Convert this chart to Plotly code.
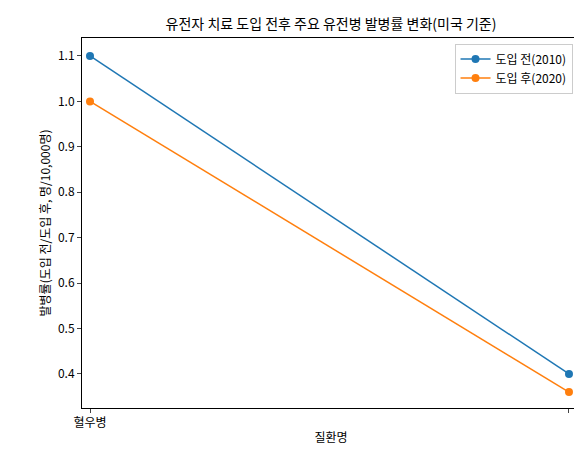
import plotly.graph_objects as go

categories = ["혈우병", "낭포성 섬유증"]
before_2010 = [1.1, 0.4]
after_2020 = [1.0, 0.36]

font = "Noto Sans CJK KR"
fig = go.Figure()
fig.add_trace(go.Scatter(x=[0, 1], y=before_2010, mode="lines+markers", name="도입 전(2010)",
                         line=dict(color="#1f77b4", width=1.5), marker=dict(size=8, color="#1f77b4")))
fig.add_trace(go.Scatter(x=[0, 1], y=after_2020, mode="lines+markers", name="도입 후(2020)",
                         line=dict(color="#ff7f0e", width=1.5), marker=dict(size=8, color="#ff7f0e")))
fig.update_layout(
    width=582, height=454, plot_bgcolor="white", paper_bgcolor="white",
    margin=dict(l=74, r=10, t=30, b=54),
    font=dict(family=font, size=12, color="black"),
    title=dict(text="유전자 치료 도입 전후 주요 유전병 발병률 변화(미국 기준)", x=0.555, xanchor="center",
               y=0.965, yanchor="middle", font=dict(size=14)),
    legend=dict(x=0.985, y=0.985, xanchor="right", yanchor="top", bordercolor="#cccccc",
                borderwidth=1, bgcolor="white", font=dict(size=12)),
    showlegend=True,
)
fig.update_xaxes(range=[-0.0167, 1.023], tickvals=[0, 1], ticktext=categories, showgrid=False,
                 showline=True, mirror=True, linecolor="black", ticks="outside", ticklen=4,
                 title=dict(text="질환명", standoff=4, font=dict(size=12)), zeroline=False,
                 automargin=False)
fig.update_yaxes(range=[0.325, 1.1396], tickvals=[0.4, 0.5, 0.6, 0.7, 0.8, 0.9, 1.0, 1.1],
                 tickformat=".1f", showgrid=False, showline=True, mirror=True, linecolor="black",
                 ticks="outside", ticklen=4,
                 title=dict(text="발병률(도입 전/도입 후, 명/10,000명)", standoff=4, font=dict(size=12)),
                 zeroline=False, automargin=False)
fig.write_html("out.html")
